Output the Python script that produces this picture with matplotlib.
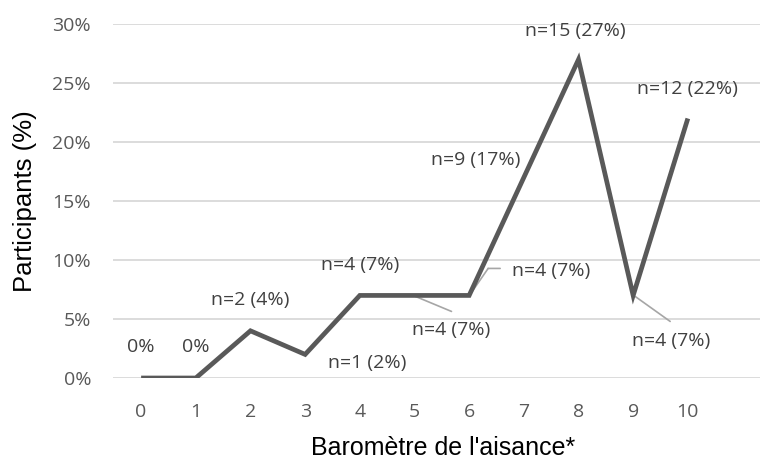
import matplotlib
matplotlib.use("Agg")
import matplotlib.pyplot as plt
from matplotlib.transforms import offset_copy

x_vals = [0, 1, 2, 3, 4, 5, 6, 7, 8, 9, 10]
pct = [0, 0, 4, 2, 7, 7, 7, 17, 27, 7, 22]
labels = ["0%", "0%", "n=2 (4%)", "n=1 (2%)", "n=4 (7%)", "n=4 (7%)", "n=4 (7%)",
          "n=9 (17%)", "n=15 (27%)", "n=4 (7%)", "n=12 (22%)"]
y_ticks = [0, 5, 10, 15, 20, 25, 30]

fig = plt.figure(figsize=(7.6, 4.62), dpi=100)
ax = fig.add_axes([0.149, 0.1818, 0.851, 0.766])
ax.set_xlim(-0.51, 11.32)
ax.set_ylim(0, 30)

for t in y_ticks:
    ax.axhline(t, color="#d9d9d9", lw=1.3, zorder=0)
ax.plot(x_vals, pct, color="#595959", lw=3.4, solid_joinstyle="miter",
        solid_capstyle="butt", zorder=3)

for s in ax.spines.values():
    s.set_visible(False)
ax.set_xticks(x_vals)
ax.set_xticklabels([str(v) for v in x_vals])
ax.set_yticks(y_ticks)
ax.set_yticklabels([f"{t}%" for t in y_ticks])
ax.tick_params(length=0, labelsize=14, labelcolor="#595959")
ax.tick_params(axis="x", pad=18)
ax.tick_params(axis="y", pad=16)
for lab in ax.get_xticklabels() + ax.get_yticklabels():
    lab.set_family("Open Sans")

ax.set_xlabel("Baromètre de l'aisance*", fontsize=18, family="Liberation Sans")
ax.set_ylabel("Participants (%)", fontsize=18.5, family="Liberation Sans")
ax.xaxis.set_label_coords(0.51, -0.165)
ax.yaxis.set_label_coords(-0.118, 0.5)

# label offsets in pixels (dx, dy) from data point
offs = {
    0: (0, 31), 1: (0, 31), 2: (0, 31), 3: (62, -9),
    4: (0, 30), 5: (37, -35), 6: (82, 24), 7: (-48, 17),
    8: (-3, 29), 9: (38, -46), 10: (0, 29),
}
for i, (xv, yv, lab) in enumerate(zip(x_vals, pct, labels)):
    dx, dy = offs[i]
    ax.annotate(lab, (xv, yv), xytext=(dx, dy), textcoords="offset pixels",
                ha="center", va="center", fontsize=14, color="#404040",
                family="Open Sans", zorder=5)

lead = dict(arrowstyle="-", color="#a6a6a6", lw=1.2, shrinkA=0, shrinkB=0)
# leader lines: (point index, start offset px, end offset px)
segments = [(5, (1, -1), (37, -16)), (6, (1, 1), (19, 27)), (6, (19, 27), (31, 27)),
            (9, (2, -1), (37, -26))]
for idx, (sx, sy), (ex, ey) in segments:
    tr = offset_copy(ax.transData, fig=fig, x=sx, y=sy, units="dots")
    ax.annotate("", xy=(x_vals[idx], pct[idx]), xycoords=tr,
                xytext=(ex - sx, ey - sy), textcoords="offset pixels",
                arrowprops=lead, zorder=2)

fig.savefig("out.png", dpi=100)
